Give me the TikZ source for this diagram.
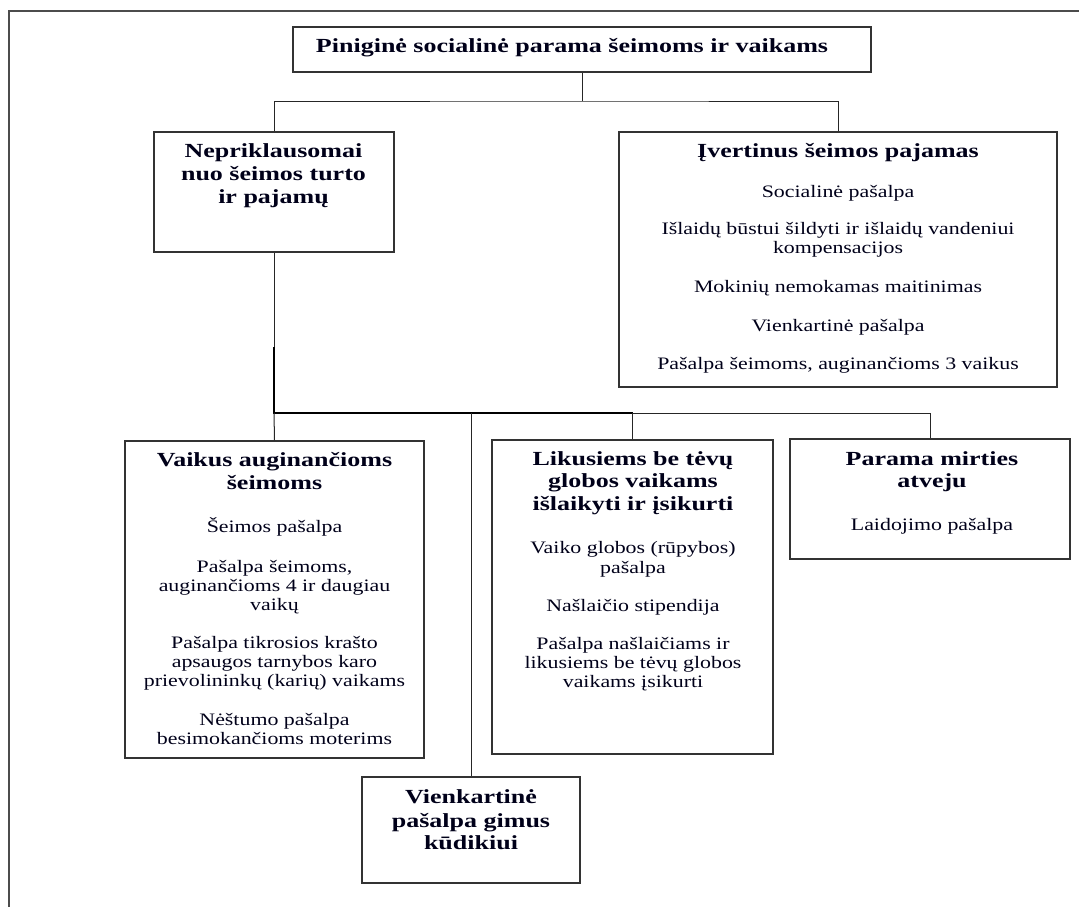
\documentclass[tikz,border=0pt]{standalone}
\usepackage{fontspec}
\newfontfamily\rmw[FakeStretch=1.25]{Liberation Serif}
\newfontfamily\bfw[FakeStretch=1.3]{Liberation Serif}
\newcommand\Bf{\bfw\bfseries\fontsize{20}{24}\selectfont}
\newcommand\Rm{\rmw\fontsize{17.5}{19}\selectfont}
\newcommand\LL[1]{\hbox to 0pt{\hss\smash{#1}\hss}}
\newcommand\KK[1]{\kern#1pt}
\begin{document}
\begin{tikzpicture}[x=1pt,y=-1pt,
  box/.style={draw=black!80,line width=1.3pt,rectangle,inner sep=0pt},
  txt/.style={anchor=base,inner sep=0pt,text=black!90!blue},
  conn/.style={draw=black!85,line width=1pt},
  thickconn/.style={draw=black,line width=2.4pt},
  frame/.style={draw=black!70,line width=1.6pt}]
\useasboundingbox (0,0) rectangle (1079,907);
\draw[frame] (9,907) -- (9,11) -- (1079,11);
% boxes
\node[box,minimum width=578pt,minimum height=45pt] (top) at (582,49.5) {};
\node[box,minimum width=240pt,minimum height=120pt] (nep) at (274,192) {};
\node[box,minimum width=438pt,minimum height=255pt] (iv) at (838,259.5) {};
\node[box,minimum width=299pt,minimum height=317pt] (vai) at (274.5,599.5) {};
\node[box,minimum width=281pt,minimum height=314pt] (lik) at (632.5,597) {};
\node[box,minimum width=280pt,minimum height=120pt] (par) at (930,499) {};
\node[box,minimum width=218pt,minimum height=106pt] (vie) at (471,830) {};
% texts
\node[txt] (topT) at (572,53) {\Bf\LL{Piniginė socialinė parama šeimoms ir vaikams}};
\node[txt] (nepT) at (273.5,157) {\Bf\vtop{\offinterlineskip
  \LL{Nepriklausomai}\KK{23}\LL{nuo šeimos turto}\KK{23}\LL{ir pajamų}}};
\node[txt] (ivT) at (838,157) {\vtop{\offinterlineskip
  \LL{\Bf Įvertinus šeimos pajamas}\KK{40}
  \LL{\Rm Socialinė pašalpa}\KK{37}
  \LL{\Rm Išlaidų būstui šildyti ir išlaidų vandeniui}\KK{19}
  \LL{\Rm kompensacijos}\KK{39}
  \LL{\Rm Mokinių nemokamas maitinimas}\KK{39}
  \LL{\Rm Vienkartinė pašalpa}\KK{38}
  \LL{\Rm Pašalpa šeimoms, auginančioms 3 vaikus}}};
\node[txt] (vaiT) at (274.5,466) {\vtop{\offinterlineskip
  \LL{\Bf Vaikus auginančioms}\KK{23}
  \LL{\Bf šeimoms}\KK{43}
  \LL{\Rm Šeimos pašalpa}\KK{40}
  \LL{\Rm Pašalpa šeimoms,}\KK{19}
  \LL{\Rm auginančioms 4 ir daugiau}\KK{19}
  \LL{\Rm vaikų}\KK{38}
  \LL{\Rm Pašalpa tikrosios krašto}\KK{19}
  \LL{\Rm apsaugos tarnybos karo}\KK{19}
  \LL{\Rm prievolininkų (karių) vaikams}\KK{39}
  \LL{\Rm Nėštumo pašalpa}\KK{19}
  \LL{\Rm besimokančioms moterims}}};
\node[txt] (likT) at (633,465) {\vtop{\offinterlineskip
  \LL{\Bf Likusiems be tėvų}\KK{22.5}
  \LL{\Bf globos vaikams}\KK{22.5}
  \LL{\Bf išlaikyti ir įsikurti}\KK{43}
  \LL{\Rm Vaiko globos (rūpybos)}\KK{20}
  \LL{\Rm pašalpa}\KK{38}
  \LL{\Rm Našlaičio stipendija}\KK{38}
  \LL{\Rm Pašalpa našlaičiams ir}\KK{19}
  \LL{\Rm likusiems be tėvų globos}\KK{19}
  \LL{\Rm vaikams įsikurti}}};
\node[txt] (parT) at (932,465) {\vtop{\offinterlineskip
  \LL{\Bf Parama mirties}\KK{22}
  \LL{\Bf atveju}\KK{43}
  \LL{\Rm Laidojimo pašalpa}}};
\node[txt] (vieT) at (471,803) {\Bf\vtop{\offinterlineskip
  \LL{Vienkartinė}\KK{24}\LL{pašalpa gimus}\KK{22}\LL{kūdikiui}}};
% connectors
\coordinate (h1) at (582,101);
\coordinate (j) at (274,347);
\coordinate (h2) at (274,413);
\draw[conn] (top.south) -- (h1);
\draw[conn] (nep.north) |- (h1) -| (iv.north);
\draw[conn] (nep.south) -- (j);
\draw[thickconn] (j) -- (h2) -- (lik.north |- h2);
\draw[conn] (lik.north |- h2) -- (par.north |- h2) -- (par.north);
\draw[conn] (h2) -- (vai.north);
\draw[conn] (lik.north |- h2) -- (lik.north);
\draw[conn] (vie.north |- h2) -- (vie.north);
\end{tikzpicture}
\end{document}
